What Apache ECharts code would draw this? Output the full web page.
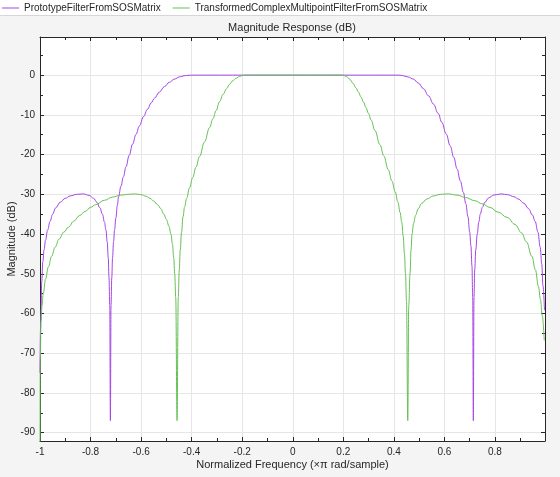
<!DOCTYPE html>
<html>
<head>
<meta charset="utf-8">
<script src="https://cdn.jsdelivr.net/npm/echarts@6/dist/echarts.min.js"></script>
<style>
html,body{margin:0;padding:0;background:#f4f4f4;}
#c{width:560px;height:477px;}
</style>
</head>
<body>
<div id="c"></div>
<script>
// ---- data ----
var seriesNames = ['PrototypeFilterFromSOSMatrix', 'TransformedComplexMultipointFilterFromSOSMatrix'];
var xTickLabels = ['-1', '-0.8', '-0.6', '-0.4', '-0.2', '0', '0.2', '0.4', '0.6', '0.8'];
var yTickLabels = ['-90', '-80', '-70', '-60', '-50', '-40', '-30', '-20', '-10', '0'];

var protoFreq = [
  -1.000, -0.998, -0.996, -0.993, -0.989, -0.984, -0.978, -0.970, -0.960, -0.950,
  -0.938, -0.920, -0.900, -0.880, -0.855, -0.828, -0.805, -0.788, -0.775, -0.763,
  -0.753, -0.745, -0.739, -0.734, -0.730, -0.727, -0.724, -0.7215, -0.719, -0.716,
  -0.713, -0.709, -0.705, -0.700, -0.694, -0.689, -0.680, -0.670, -0.660, -0.647,
  -0.634, -0.620, -0.607, -0.590, -0.575, -0.560, -0.547, -0.528, -0.508, -0.488,
  -0.468, -0.448, -0.430, -0.410, -0.390, 0.000, 0.420, 0.438, 0.458, 0.477,
  0.497, 0.517, 0.537, 0.557, 0.575, 0.590, 0.607, 0.623, 0.637, 0.650,
  0.663, 0.675, 0.685, 0.693, 0.700, 0.705, 0.709, 0.712, 0.7145, 0.717,
  0.720, 0.724, 0.730, 0.736, 0.742, 0.750, 0.760, 0.775, 0.795, 0.824,
  0.850, 0.875, 0.893, 0.915, 0.933, 0.948, 0.959, 0.970, 0.979, 0.985,
  0.990, 0.996
];
var protoDb = [
  -75.0, -64.0, -59.0, -52.0, -47.0, -44.0, -41.5, -39.0, -36.8, -35.0,
  -33.4, -32.0, -31.0, -30.4, -30.0, -29.9, -30.3, -31.0, -32.0, -33.4,
  -35.0, -37.0, -39.0, -42.0, -46.0, -51.0, -58.0, -87.0, -58.0, -51.0,
  -46.0, -42.0, -39.0, -36.0, -32.8, -30.6, -28.0, -25.6, -23.1, -20.2,
  -17.4, -14.9, -12.8, -10.4, -8.6, -7.0, -5.8, -4.3, -2.9, -1.8,
  -1.0, -0.45, -0.15, -0.03, 0.0, 0.0, 0.0, -0.15, -0.5, -1.0,
  -2.0, -3.4, -5.2, -7.3, -9.6, -11.9, -14.8, -17.8, -20.7, -23.6,
  -26.6, -29.5, -32.4, -35.6, -39.5, -43.0, -48.0, -56.0, -87.0, -56.0,
  -49.0, -44.0, -40.0, -37.0, -35.0, -33.3, -32.0, -30.9, -30.2, -29.9,
  -30.1, -30.6, -31.2, -32.3, -33.6, -35.2, -36.8, -39.5, -43.3, -47.5,
  -53.0, -59.2
];

var transFreq = [
  -1.000, -0.999, -0.996, -0.992, -0.987, -0.978, -0.967, -0.954, -0.940, -0.925,
  -0.905, -0.888, -0.865, -0.845, -0.821, -0.800, -0.780, -0.745, -0.713, -0.680,
  -0.650, -0.623, -0.600, -0.580, -0.565, -0.550, -0.535, -0.522, -0.510, -0.500,
  -0.490, -0.482, -0.476, -0.471, -0.467, -0.463, -0.4577, -0.453, -0.449, -0.445,
  -0.440, -0.434, -0.428, -0.420, -0.408, -0.396, -0.383, -0.369, -0.349, -0.329,
  -0.316, -0.303, -0.290, -0.275, -0.262, -0.250, -0.237, -0.225, -0.210, -0.197,
  -0.180, 0.000, 0.185, 0.200, 0.212, 0.225, 0.239, 0.250, 0.260, 0.270,
  0.280, 0.290, 0.300, 0.310, 0.325, 0.345, 0.360, 0.378, 0.392, 0.405,
  0.416, 0.425, 0.431, 0.437, 0.442, 0.446, 0.450, 0.455, 0.459, 0.464,
  0.468, 0.472, 0.478, 0.486, 0.496, 0.510, 0.530, 0.557, 0.585, 0.616,
  0.650, 0.683, 0.720, 0.750, 0.780, 0.813, 0.848, 0.880, 0.905, 0.925,
  0.946, 0.960, 0.972, 0.980, 0.987, 0.995
];
var transDb = [
  -100.0, -72.0, -62.0, -58.0, -55.0, -51.3, -48.3, -45.6, -43.3, -41.3,
  -39.5, -38.3, -36.7, -35.4, -34.3, -33.3, -32.6, -31.5, -30.7, -30.2,
  -30.0, -29.9, -30.1, -30.5, -31.0, -31.7, -32.6, -33.6, -35.0, -36.3,
  -38.0, -40.0, -42.5, -46.0, -50.0, -56.0, -87.0, -56.0, -49.0, -44.0,
  -39.5, -35.6, -33.2, -31.0, -28.3, -25.8, -23.2, -20.5, -16.8, -13.2,
  -11.0, -8.9, -6.7, -4.8, -3.4, -2.3, -1.4, -0.8, -0.3, -0.05,
  0.0, 0.0, 0.0, -0.05, -0.3, -1.0, -2.1, -3.2, -4.3, -5.5,
  -6.8, -8.2, -9.7, -11.3, -13.9, -17.5, -20.3, -23.8, -26.6, -29.3,
  -32.0, -34.6, -37.0, -40.5, -45.0, -50.0, -57.0, -87.0, -58.0, -50.0,
  -44.0, -40.0, -37.3, -35.3, -33.7, -32.3, -31.2, -30.4, -30.0, -29.9,
  -30.2, -30.8, -31.6, -32.4, -33.3, -34.5, -35.8, -37.6, -39.7, -42.0,
  -45.6, -49.0, -53.2, -56.5, -60.5, -66.8
];

// ---- chart ----
function pairs(xs, ys) {
  var out = [];
  for (var i = 0; i < xs.length; i++) out.push([xs[i], ys[i]]);
  return out;
}
var colors = ['#a545e6', '#66bf55'];
var axisColor = '#262626';
var fontFam = '"Liberation Sans", Arial, sans-serif';

var xShown = {}; xTickLabels.forEach(function (t) { xShown[t] = true; });
var yShown = {}; yTickLabels.forEach(function (t) { yShown[t] = true; });

function fmtX(v) { var s = String(Math.round(v * 10) / 10); return xShown[s] ? s : ''; }
function fmtY(v) { var s = String(Math.round(v)); return yShown[s] ? s : ''; }

var xBase = {
  type: 'value', min: -1, max: 0.998, interval: 0.2,
  axisLine: { show: true, onZero: false, lineStyle: { color: axisColor, width: 1 } },
  axisTick: { show: true, inside: true, length: 4, lineStyle: { color: axisColor } },
  minorTick: { show: true, splitNumber: 2, length: 3, lineStyle: { color: axisColor } },
  splitLine: { show: false },
  axisLabel: { show: false }
};
var yBase = {
  type: 'value', min: -92.1, max: 9.6, splitNumber: 10, minInterval: 10, maxInterval: 10,
  axisLine: { show: true, onZero: false, lineStyle: { color: axisColor, width: 1 } },
  axisTick: { show: true, inside: true, length: 4, lineStyle: { color: axisColor } },
  minorTick: { show: true, splitNumber: 2, length: 3, lineStyle: { color: axisColor } },
  splitLine: { show: false },
  axisLabel: { show: false }
};

var chart = echarts.init(document.getElementById('c'), null, { renderer: 'canvas' });
chart.setOption({
  animation: false,
  backgroundColor: '#f4f4f4',
  textStyle: { fontFamily: fontFam },
  graphic: [
    { type: 'rect', left: 0, top: 0, shape: { x: 0, y: 0, width: 560, height: 15 }, style: { fill: '#ffffff' }, z: -10 },
    { type: 'line', shape: { x1: 0, y1: 15.5, x2: 560, y2: 15.5 }, style: { stroke: '#d6d6d6', lineWidth: 1 }, z: -9 }
  ],
  title: {
    text: 'Magnitude Response (dB)',
    left: 292, top: 22, textAlign: 'center', padding: 0,
    textStyle: { fontSize: 11, fontWeight: 'normal', color: '#262626', fontFamily: fontFam }
  },
  legend: {
    left: 2, top: 3, itemWidth: 17, itemHeight: 1, itemGap: 12,
    padding: 0, icon: 'rect',
    textStyle: { fontSize: 10, color: '#262626', fontFamily: fontFam },
    data: seriesNames
  },
  grid: {
    left: 40, right: 15, top: 37, bottom: 36,
    outerBoundsMode: 'none', containLabel: false,
    show: true, backgroundColor: '#ffffff', borderWidth: 0
  },
  xAxis: [
    Object.assign({}, xBase, {
      position: 'bottom',
      name: 'Normalized Frequency (\u00d7\u03c0 rad/sample)',
      nameLocation: 'middle', nameGap: 18, nameMoveOverlap: false,
      nameTextStyle: { fontSize: 11, color: '#262626', fontFamily: fontFam, verticalAlign: 'top' },
      splitLine: { show: true, lineStyle: { color: '#e6e6e6', width: 1 } },
      axisLabel: { show: true, fontSize: 10, color: '#262626', margin: 6, formatter: fmtX, showMaxLabel: false, fontFamily: fontFam }
    }),
    Object.assign({}, xBase, { position: 'top' })
  ],
  yAxis: [
    Object.assign({}, yBase, {
      position: 'left',
      name: 'Magnitude (dB)',
      nameLocation: 'middle', nameGap: 23, nameMoveOverlap: false,
      nameTextStyle: { fontSize: 11, color: '#262626', fontFamily: fontFam },
      splitLine: { show: true, lineStyle: { color: '#e6e6e6', width: 1 } },
      axisLabel: { show: true, fontSize: 10, color: '#262626', margin: 5, formatter: fmtY, showMinLabel: false, showMaxLabel: false, fontFamily: fontFam }
    }),
    Object.assign({}, yBase, { position: 'right' })
  ],
  series: [
    {
      name: seriesNames[0], type: 'line', xAxisIndex: 0, yAxisIndex: 0,
      data: pairs(protoFreq, protoDb), showSymbol: false, symbol: 'none', clip: true,
      smooth: 0.4, smoothMonotone: 'x',
      lineStyle: { color: colors[0], width: 1 }, itemStyle: { color: colors[0] }
    },
    {
      name: seriesNames[1], type: 'line', xAxisIndex: 0, yAxisIndex: 0,
      data: pairs(transFreq, transDb), showSymbol: false, symbol: 'none', clip: true,
      smooth: 0.4, smoothMonotone: 'x',
      lineStyle: { color: colors[1], width: 1 }, itemStyle: { color: colors[1] }
    }
  ]
});
</script>
</body>
</html>
